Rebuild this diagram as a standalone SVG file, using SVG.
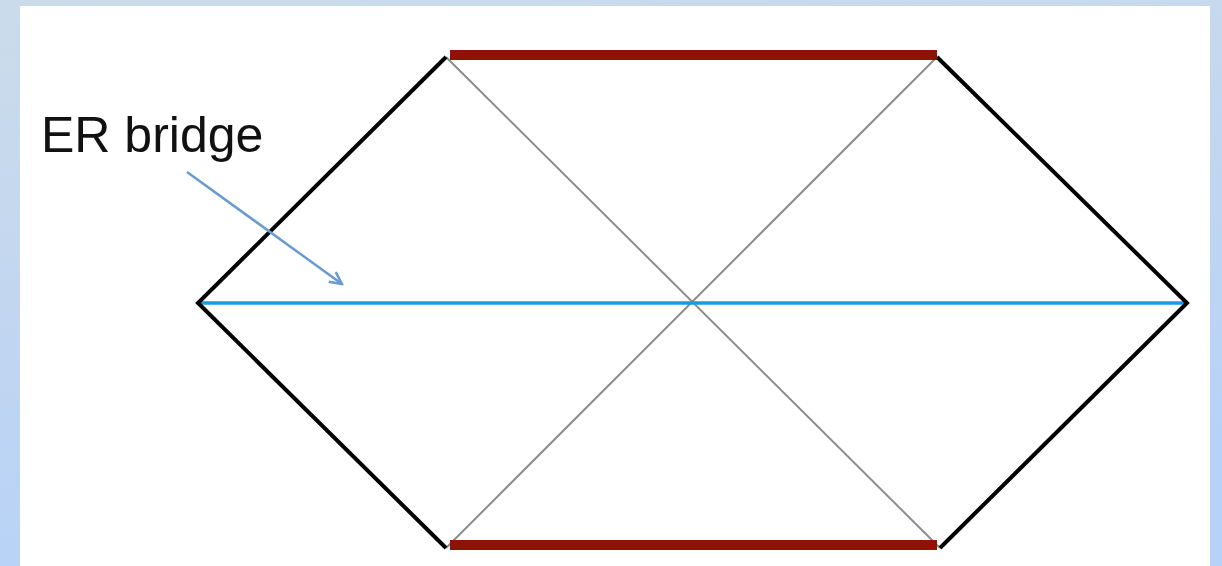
<svg xmlns="http://www.w3.org/2000/svg" width="1222" height="566" viewBox="0 0 1222 566">
<defs>
<linearGradient id="bg" x1="0" y1="0" x2="0.3" y2="1">
<stop offset="0" stop-color="#cadcea"/>
<stop offset="0.5" stop-color="#c2d6f0"/>
<stop offset="1" stop-color="#b6d2f8"/>
</linearGradient>
<marker id="ah" viewBox="0 0 16 16" refX="14" refY="8" markerWidth="16" markerHeight="16" markerUnits="userSpaceOnUse" orient="auto">
<path d="M2,2 L14,8 L2,14" fill="none" stroke="#6a9bd0" stroke-width="2.5"/>
</marker>
<style>
.edge{stroke:#000;stroke-width:4;fill:none;stroke-linejoin:miter}
.diag{stroke:#8c8c8c;stroke-width:2}
.bar{stroke:#8e1205;stroke-width:10}
.er{stroke:#1a9be0;stroke-width:3.5}
.ptr{stroke:#6a9bd0;stroke-width:2.5}
.lbl{font-family:"Liberation Sans",Arial,sans-serif;font-size:50px;fill:#111}
</style>
</defs>
<rect x="0" y="0" width="1222" height="566" fill="url(#bg)"/>
<rect x="20" y="6" width="1190" height="560" fill="#fff"/>
<g id="connectors">
<line class="diag" x1="446" y1="57" x2="940" y2="548"/>
<line class="diag" x1="937" y1="57" x2="446" y2="548"/>
<line class="er" x1="198" y1="303" x2="1187" y2="303"/>
<polyline class="edge" points="446,57 198,303 446,548"/>
<polyline class="edge" points="937,57 1187,303 940,548"/>
<line class="bar" x1="450" y1="55" x2="937" y2="55"/>
<line class="bar" x1="450" y1="545" x2="937" y2="545"/>
<line class="ptr" x1="187" y1="172" x2="342" y2="284" marker-end="url(#ah)"/>
</g>
<g id="label">
<text class="lbl" x="41" y="152">ER bridge</text>
</g>
</svg>
